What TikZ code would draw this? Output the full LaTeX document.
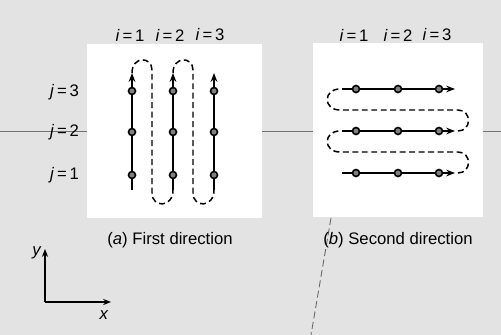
\documentclass[tikz,border=0pt]{standalone}
\usepackage{fontspec}
\setmainfont{Liberation Sans}
\usetikzlibrary{arrows.meta}
\begin{document}
\begin{tikzpicture}[x=0.02cm,y=-0.02cm,
  gridpt/.style={circle,draw=black,fill=black!50,line width=0.9pt,inner sep=0pt,minimum size=0.14cm},
  flowline/.style={line width=1.2pt,-{Stealth[length=5pt,width=3.8pt]}},
  dashloop/.style={line width=0.85pt,dash pattern=on 3.4pt off 2pt},
  lbltext/.style={font=\fontsize{9.5}{10}\selectfont,inner sep=1pt},
  captext/.style={font=\fontsize{9.5}{11}\selectfont,inner sep=1pt},
  panelbox/.style={fill=white,draw=none}]
\useasboundingbox (0,0) rectangle (501,335);
\fill[black!11] (0,0) rectangle (501,335);
% scan guide line and fold mark
\coordinate (hl) at (0,131);
\coordinate (hr) at (501,131);
\draw[black!55,line width=0.5pt] (hl) -- (hr);
\coordinate (fa) at (331,218);
\coordinate (fb) at (311,335);
\draw[black!60,line width=0.5pt,dash pattern=on 4pt off 2pt] (fa) -- (fb);
% panels
\node[panelbox,minimum width=3.5cm,minimum height=3.5cm,inner sep=0pt] (pa) at (174.5,131) {};
\node[panelbox,minimum width=3.4cm,minimum height=3.48cm,inner sep=0pt] (pb) at (398,130) {};
% ---------- panel (a)
\foreach \c/\x in {1/132,2/173,3/214}{
  \coordinate (a\c s) at (\x,190);
  \coordinate (a\c e) at (\x,73);
  \node[gridpt] (a\c1) at (\x,175) {};
  \node[gridpt] (a\c2) at (\x,132) {};
  \node[gridpt] (a\c3) at (\x,91) {};
}
\foreach \c in {1,2,3}{
  \draw[flowline] (a\c s) -- (a\c1) -- (a\c2) -- (a\c3) -- (a\c e);
}
\coordinate (ad1) at (152,70);
\coordinate (ad2) at (152,193);
\coordinate (ad3) at (193,70);
\coordinate (ad4) at (193,193);
\draw[dashloop] (a1e) .. controls (132,56) and (152,56) .. (ad1) -- (ad2)
  .. controls (152,208) and (173,208) .. (a2s);
\draw[dashloop] (a2e) .. controls (173,56) and (193,56) .. (ad3) -- (ad4)
  .. controls (193,208) and (214,208) .. (a3s);
\node[lbltext] (ai1) at (130,35) {\textit{i}\,=\,1};
\node[lbltext] (ai2) at (170,35) {\textit{i}\,=\,2};
\node[lbltext] (ai3) at (210,35) {\textit{i}\,=\,3};
\node[lbltext,anchor=east] (aj3) at (81,92) {\textit{j}\,=\,3};
\node[lbltext,anchor=east] (aj2) at (81,132) {\textit{j}\,=\,2};
\node[lbltext,anchor=east] (aj1) at (81,175) {\textit{j}\,=\,1};
\node[captext] (capa) at (170,240) {(\textit{a}) First direction};
% ---------- panel (b)
\foreach \r/\y in {1/173,2/131,3/89}{
  \coordinate (b\r s) at (342,\y);
  \coordinate (b\r e) at (455,\y);
  \node[gridpt] (b\r1) at (356,\y) {};
  \node[gridpt] (b\r2) at (398,\y) {};
  \node[gridpt] (b\r3) at (439,\y) {};
}
\foreach \r in {1,2,3}{
  \draw[flowline] (b\r s) -- (b\r1) -- (b\r2) -- (b\r3) -- (b\r e);
}
\coordinate (bd1) at (458,173);
\coordinate (bd2) at (458,152);
\coordinate (bd3) at (340,152);
\coordinate (bd4) at (340,131);
\coordinate (bd5) at (458,131);
\coordinate (bd6) at (458,110);
\coordinate (bd7) at (340,110);
\coordinate (bd8) at (340,89);
\draw[dashloop] (bd1) .. controls (472,173) and (472,152) .. (bd2) -- (bd3)
  .. controls (323,152) and (323,131) .. (bd4);
\draw[dashloop] (bd5) .. controls (472,131) and (472,110) .. (bd6) -- (bd7)
  .. controls (323,110) and (323,89) .. (bd8);
\node[lbltext] (bi1) at (354,35) {\textit{i}\,=\,1};
\node[lbltext] (bi2) at (398,35) {\textit{i}\,=\,2};
\node[lbltext] (bi3) at (437,35) {\textit{i}\,=\,3};
\node[captext] (capb) at (398,240) {(\textit{b}) Second direction};
% ---------- axes
\coordinate (o) at (45,302);
\coordinate (yt) at (45,249);
\coordinate (xt) at (111,302);
\draw[line width=0.7pt,-{Stealth[length=4.5pt,width=3.5pt]}] (o) -- (yt);
\draw[line width=0.7pt,-{Stealth[length=4.5pt,width=3.5pt]}] (o) -- (xt);
\node[captext] (ylab) at (37,253) {\textit{y}};
\node[captext] (xlab) at (104,315) {\textit{x}};
\end{tikzpicture}
\end{document}
